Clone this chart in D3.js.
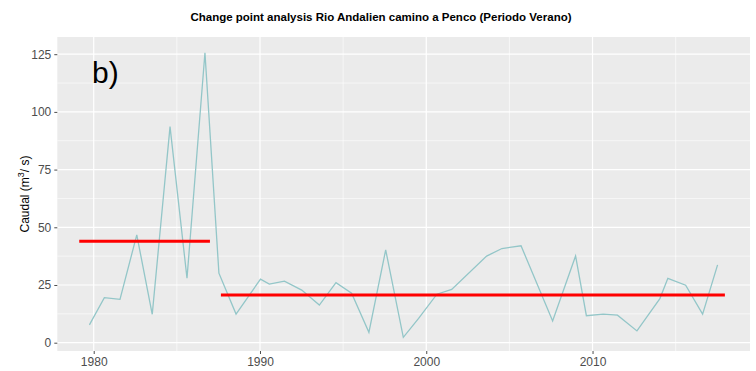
<!DOCTYPE html>
<html><head><meta charset="utf-8">
<script src="https://cdn.jsdelivr.net/npm/d3@7"></script>
<style>body{margin:0;background:#fff}svg{display:block}</style>
</head><body>
<svg id="c" width="756" height="371"></svg>
<script>
// ---- data ----
const years = [1979.74,1980.64,1981.58,1982.59,1983.52,1984.59,1985.61,1986.69,1987.53,1988.56,
  1990.03,1990.56,1991.47,1992.51,1993.57,1994.57,1995.51,1996.55,1997.56,1998.62,
  1999.54,2000.64,2001.53,2003.63,2004.55,2005.70,2007.60,2008.98,2009.63,2010.64,
  2011.50,2012.67,2014.05,2014.53,2015.60,2016.62,2017.52];
const caudal = [7.7,19.5,18.8,46.7,12.3,93.6,27.9,125.6,30.1,12.4,
  27.5,25.4,26.7,22.8,16.3,26.0,21.4,4.5,40.2,2.3,
  10.5,21.0,23.1,37.5,40.8,42.0,9.4,37.6,11.7,12.4,
  11.9,5.1,19.1,27.9,24.9,12.4,33.7];
const segStart = [1979.13, 1987.65];
const segEnd   = [1986.99, 2017.96];
const segMean  = [43.9, 20.7];
const xTicks = [1980, 1990, 2000, 2010];
const xMinor = [1985, 1995, 2005, 2015];
const yTicks = [0, 25, 50, 75, 100, 125];
const yMinor = [12.5, 37.5, 62.5, 87.5, 112.5];
const title = "Change point analysis Rio Andalien camino a Penco (Periodo Verano)";

// ---- layout ----
const svg = d3.select("#c");
const L = 57.3, R = 750, T = 37, B = 351;
const x = d3.scaleLinear().domain([1977.81, 2019.47]).range([L, R]);
const y = d3.scaleLinear().domain([-3.6, 132.45]).range([B, T]);

svg.append("rect").attr("x", L).attr("y", T).attr("width", R - L).attr("height", B - T).attr("fill", "#EBEBEB");

const g = svg.append("g");
g.selectAll(".vmin").data(xMinor).join("line")
  .attr("x1", d => x(d)).attr("x2", d => x(d)).attr("y1", T).attr("y2", B)
  .attr("stroke", "#fff").attr("stroke-width", 0.6);
g.selectAll(".hmin").data(yMinor).join("line")
  .attr("x1", L).attr("x2", R).attr("y1", d => y(d)).attr("y2", d => y(d))
  .attr("stroke", "#fff").attr("stroke-width", 0.6);
g.selectAll(".vmaj").data(xTicks).join("line")
  .attr("x1", d => x(d)).attr("x2", d => x(d)).attr("y1", T).attr("y2", B)
  .attr("stroke", "#fff").attr("stroke-width", 1.2);
g.selectAll(".hmaj").data(yTicks).join("line")
  .attr("x1", L).attr("x2", R).attr("y1", d => y(d)).attr("y2", d => y(d))
  .attr("stroke", "#fff").attr("stroke-width", 1.2);

// axes
const xAxis = svg.append("g").attr("transform", `translate(0,${B})`)
  .call(d3.axisBottom(x).tickValues(xTicks).tickFormat(d3.format("d")).tickSize(3).tickPadding(3));
const yAxis = svg.append("g").attr("transform", `translate(${L},0)`)
  .call(d3.axisLeft(y).tickValues(yTicks).tickSize(3).tickPadding(3));
[xAxis, yAxis].forEach(a => {
  a.select(".domain").remove();
  a.selectAll(".tick line").attr("stroke", "#4d4d4d").attr("stroke-width", 1);
  a.selectAll(".tick text").attr("fill", "#4d4d4d")
    .style("font-family", "'Liberation Sans', Arial, sans-serif").style("font-size", "12px");
});

// series line
const line = d3.line().x((d, i) => x(years[i])).y(d => y(d));
svg.append("path").datum(caudal).attr("d", line)
  .attr("fill", "none").attr("stroke", "#93c6c8").attr("stroke-width", 1.3);

// change point means
svg.selectAll(".seg").data(segMean).join("line")
  .attr("x1", (d, i) => x(segStart[i])).attr("x2", (d, i) => x(segEnd[i]))
  .attr("y1", d => y(d)).attr("y2", d => y(d))
  .attr("stroke", "#ff0000").attr("stroke-width", 3);

// title
svg.append("text").attr("x", 381).attr("y", 21).attr("text-anchor", "middle")
  .style("font-family", "'Liberation Sans', Arial, sans-serif").style("font-weight", "bold")
  .style("font-size", "11.5px").attr("fill", "#000").text(title);

// y axis title
const yt = svg.append("text").attr("transform", "translate(29,194) rotate(-90)")
  .attr("text-anchor", "middle")
  .style("font-family", "'Liberation Sans', Arial, sans-serif").style("font-size", "12px").attr("fill", "#000");
yt.append("tspan").text("Caudal (m");
yt.append("tspan").attr("dy", -5).style("font-size", "9px").text("3");
yt.append("tspan").attr("dy", 5).text("/ s)");

// panel tag
svg.append("text").attr("x", 92).attr("y", 83)
  .style("font-family", "'Liberation Sans', Arial, sans-serif").style("font-size", "30px").attr("fill", "#000").text("b)");
</script>
</body></html>
